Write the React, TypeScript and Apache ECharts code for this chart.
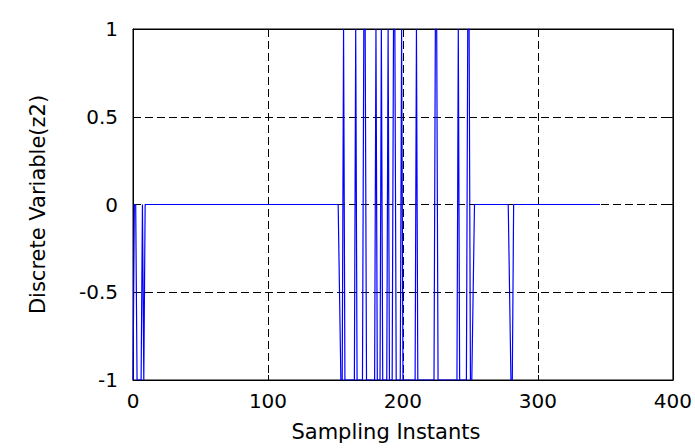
import React, { useEffect, useRef } from "react";
import * as echarts from "echarts";

// Sampling instants (x) and discrete variable z2 values (y) at each vertex of the trace
const sampleInstants = [
  0, 1, 2, 3, 6, 7, 8, 9,
  152, 154, 155, 156, 157, 164, 165, 166, 170, 171, 172, 173,
  179, 180, 181, 183, 184, 185, 188, 189, 190, 192, 193, 194, 195,
  198, 199, 200, 209, 210, 211, 223, 224, 225, 226, 240, 241, 242,
  247, 248, 249, 250, 251, 253, 278, 280, 281, 282, 346,
];
const z2Values = [
  -1, 0, 0, -1, -1, 0, -1, 0,
  0, -1, -1, 1, -1, -1, 1, -1, -1, 1, 1, -1,
  -1, 1, -1, -1, 1, -1, -1, 1, -1, -1, 1, 1, -1,
  -1, 1, -1, -1, 1, -1, -1, 1, 1, -1, -1, 1, -1,
  -1, 1, 1, -1, -1, 0, 0, -1, -1, 0, 0,
];

const xTicks = [0, 100, 200, 300, 400];
const yTicks = [-1, -0.5, 0, 0.5, 1];

const xName = "Sampling Instants";
const yName = "Discrete Variable(z2)";

export default function App() {
  const ref = useRef<HTMLDivElement>(null);

  useEffect(() => {
    if (!ref.current) return;
    const chart = echarts.init(ref.current, undefined, { renderer: "svg" });
    const font = "DejaVu Sans";
    const dash = { color: "#000", width: 1, type: [8, 4] as number[] };
    chart.setOption({
      animation: false,
      backgroundColor: "#fff",
      grid: {
        left: 133,
        right: 19,
        top: 29,
        bottom: 68,
        show: true,
        borderColor: "#000",
        borderWidth: 1,
      },
      xAxis: [
        {
          type: "value",
          min: xTicks[0],
          max: xTicks[xTicks.length - 1],
          interval: 100,
          position: "bottom",
          name: xName,
          nameLocation: "middle",
          nameGap: 41,
          nameTextStyle: {
            fontFamily: font,
            fontSize: 21,
            color: "#000",
            padding: [0, 34, 0, 0],
          },
          axisLine: { show: true, onZero: false, lineStyle: { color: "#000", width: 1 } },
          axisTick: { show: true, inside: true, length: 5, lineStyle: { color: "#000" } },
          axisLabel: { fontFamily: font, fontSize: 20, color: "#000", margin: 11 },
          splitLine: { show: true, lineStyle: dash },
        },
        {
          type: "value",
          min: xTicks[0],
          max: xTicks[xTicks.length - 1],
          interval: 100,
          position: "top",
          axisLine: { show: true, onZero: false, lineStyle: { color: "#000", width: 1 } },
          axisTick: { show: true, inside: true, length: 5, lineStyle: { color: "#000" } },
          axisLabel: { show: false },
          splitLine: { show: false },
        },
      ],
      yAxis: [
        {
          type: "value",
          min: yTicks[0],
          max: yTicks[yTicks.length - 1],
          interval: 0.5,
          position: "left",
          name: yName,
          nameLocation: "middle",
          nameGap: 85,
          nameTextStyle: { fontFamily: font, fontSize: 21, color: "#000" },
          axisLine: { show: true, onZero: false, lineStyle: { color: "#000", width: 1 } },
          axisTick: { show: true, inside: true, length: 5, lineStyle: { color: "#000" } },
          axisLabel: { fontFamily: font, fontSize: 20, color: "#000", margin: 15 },
          splitLine: { show: true, lineStyle: dash },
        },
        {
          type: "value",
          min: yTicks[0],
          max: yTicks[yTicks.length - 1],
          interval: 0.5,
          position: "right",
          axisLine: { show: true, onZero: false, lineStyle: { color: "#000", width: 1 } },
          axisTick: { show: true, inside: true, length: 5, lineStyle: { color: "#000" } },
          axisLabel: { show: false },
          splitLine: { show: false },
        },
      ],
      series: [
        {
          type: "line",
          xAxisIndex: 0,
          yAxisIndex: 0,
          data: sampleInstants.map((x, i) => [x, z2Values[i]]),
          showSymbol: false,
          symbol: "none",
          lineStyle: { color: "#0000ff", width: 1.2 },
          itemStyle: { color: "#0000ff" },
          z: 3,
        },
      ],
    });
    return () => chart.dispose();
  }, []);

  return (
    <div
      ref={ref}
      style={{ position: "fixed", left: 0, top: 0, width: 695, height: 448, background: "#fff" }}
    />
  );
}
